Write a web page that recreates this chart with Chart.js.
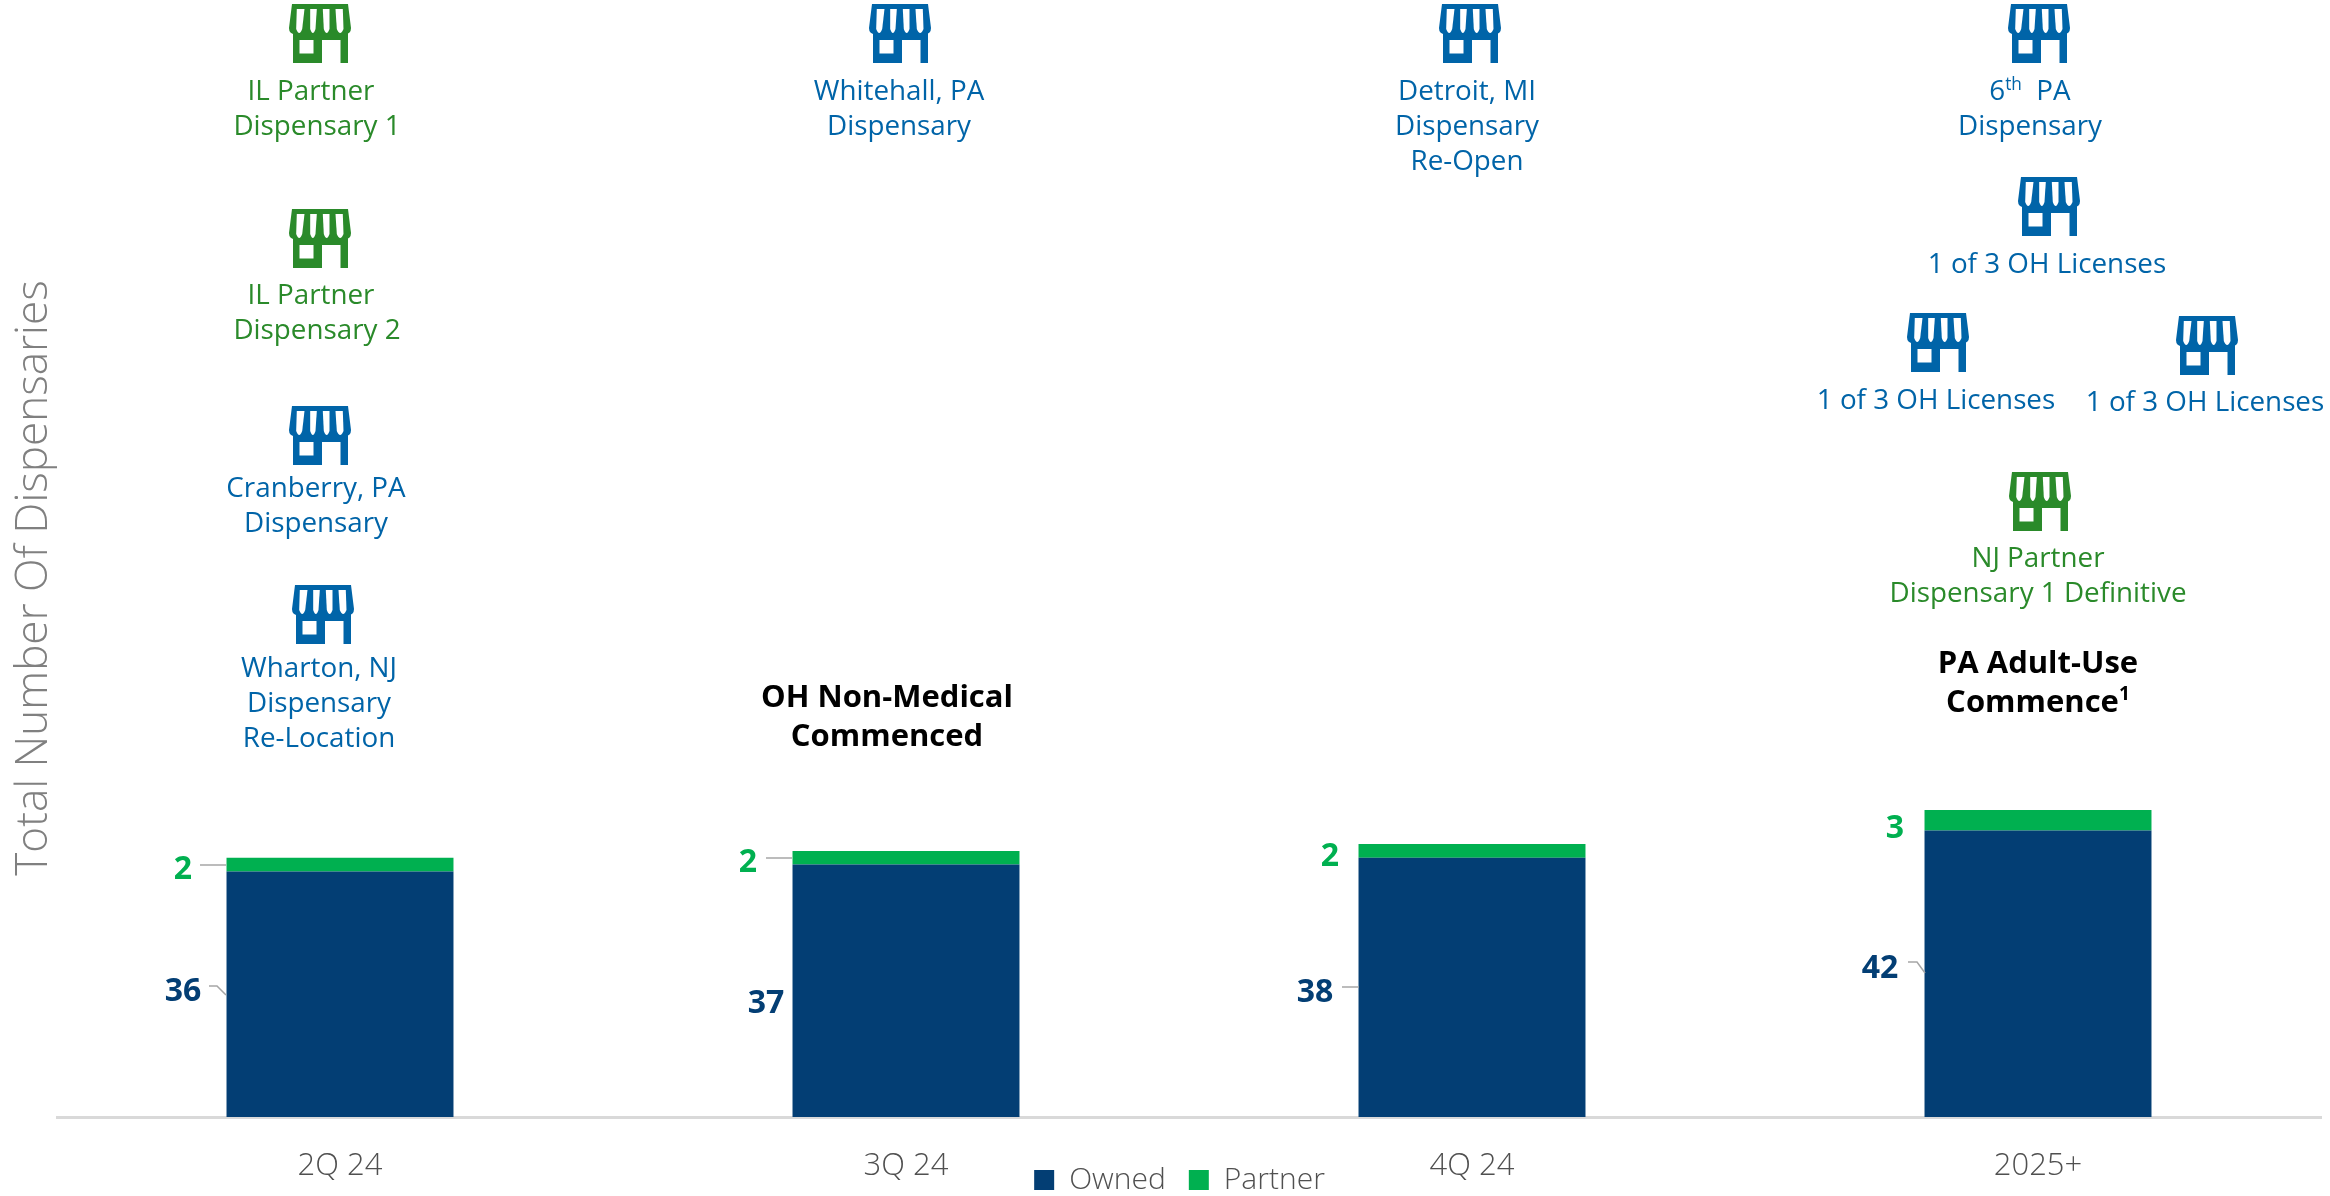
<!DOCTYPE html>
<html>
<head>
<meta charset="utf-8">
<title>Total Number Of Dispensaries</title>
<script src="https://cdn.jsdelivr.net/npm/chart.js@4/dist/chart.umd.min.js"></script>
<style>
    html, body { margin: 0; padding: 0; background: #fff; }
    canvas { display: block; }
</style>
</head>
<body>
<canvas id="dispensaryChart" width="2330" height="1196"></canvas>
<script>
const periods = ['2Q 24', '3Q 24', '4Q 24', '2025+'];
const ownedCounts = [36, 37, 38, 42];
const partnerCounts = [2, 2, 2, 3];

const NAVY = '#033e74';
const BRIGHT_GREEN = '#00b050';
const STORE_BLUE = '#0064a8';
const STORE_GREEN = '#2a8a2a';
const LEADER_GRAY = '#a6a6a6';
const FONT = '"Open Sans", sans-serif';

// Where the value labels sit next to each bar, plus their leader lines
const ownedLabelSpots = [
    { x: 183, y: 992, leader: [[209, 986], [217, 986], [226, 995]] },
    { x: 766, y: 1004, leader: null },
    { x: 1315, y: 993, leader: [[1342, 987], [1359, 987]] },
    { x: 1880, y: 969, leader: [[1908, 962], [1917, 962], [1925, 973]] }
];
const partnerLabelSpots = [
    { x: 183, y: 870, leader: [[200, 865], [226, 865]] },
    { x: 748, y: 863, leader: [[766, 858], [792, 858]] },
    { x: 1330, y: 857, leader: null },
    { x: 1895, y: 829, leader: null }
];

// Store icons with their captions, ^ marks a superscript run
const storeCallouts = [
    { x: 320, y: 33, color: STORE_GREEN, textX: 317, baseline: 100, lines: ['IL Partner', 'Dispensary 1'], lineX: [-6, 0] },
    { x: 320, y: 238, color: STORE_GREEN, textX: 317, baseline: 304, lines: ['IL Partner', 'Dispensary 2'], lineX: [-6, 0] },
    { x: 320, y: 435, color: STORE_BLUE, textX: 316, baseline: 497, lines: ['Cranberry, PA', 'Dispensary'] },
    { x: 323, y: 614, color: STORE_BLUE, textX: 319, baseline: 677, lines: ['Wharton, NJ', 'Dispensary', 'Re-Location'] },
    { x: 900, y: 33, color: STORE_BLUE, textX: 899, baseline: 100, lines: ['Whitehall, PA', 'Dispensary'] },
    { x: 1470, y: 33, color: STORE_BLUE, textX: 1467, baseline: 100, lines: ['Detroit, MI', 'Dispensary', 'Re-Open'] },
    { x: 2039, y: 33, color: STORE_BLUE, textX: 2030, baseline: 100, lines: ['6^th^  PA', 'Dispensary'] },
    { x: 2049, y: 206, color: STORE_BLUE, textX: 2047, baseline: 273, lines: ['1 of 3 OH Licenses'] },
    { x: 1938, y: 342, color: STORE_BLUE, textX: 1936, baseline: 409, lines: ['1 of 3 OH Licenses'] },
    { x: 2207, y: 345, color: STORE_BLUE, textX: 2205, baseline: 411, lines: ['1 of 3 OH Licenses'] },
    { x: 2040, y: 501, color: STORE_GREEN, textX: 2038, baseline: 567, lines: ['NJ Partner', 'Dispensary 1 Definitive'] }
];

const milestones = [
    { x: 887, baseline: 707, lines: ['OH Non-Medical', 'Commenced'] },
    { x: 2038, baseline: 673, lines: ['PA Adult-Use', 'Commence^1^'] }
];

function drawStoreIcon(ctx, cx, cy, color) {
    ctx.save();
    ctx.translate(cx, cy);
    ctx.fillStyle = color;

    // awning
    ctx.beginPath();
    ctx.moveTo(-28, -29);
    ctx.lineTo(28, -29);
    ctx.lineTo(31, -5);
    ctx.quadraticCurveTo(31, 1, 25, 1);
    ctx.lineTo(-25, 1);
    ctx.quadraticCurveTo(-31, 1, -31, -5);
    ctx.closePath();
    ctx.fill();

    // shop front
    ctx.fillRect(-27, 0, 55, 30);

    ctx.fillStyle = '#fff';
    const slits = [
        [-23.2, -15.5, -23.8, -17.8],
        [-9.8, -3.2, -9.8, -4.5],
        [2.8, 9.5, 3.8, 9.5],
        [15.5, 22.8, 16.8, 23.5]
    ];
    slits.forEach(([topL, topR, botL, botR]) => {
        ctx.beginPath();
        ctx.moveTo(topL, -24);
        ctx.lineTo(topR, -24);
        ctx.lineTo(botR, -4);
        ctx.quadraticCurveTo((botL + botR) / 2, 4, botL, -4);
        ctx.closePath();
        ctx.fill();
    });
    ctx.fillRect(-20.5, 7, 14, 13.5);   // window
    ctx.fillRect(2, 7, 18.5, 23);       // door
    ctx.restore();
}

// Centered line of text with optional ^superscript^ runs
function drawTextLine(ctx, line, x, baseline, size, weight, color) {
    const runs = line.split('^');
    const fonts = runs.map((_, i) => `${weight} ${i % 2 ? size * 0.62 : size}px ${FONT}`);
    let width = 0;
    runs.forEach((run, i) => {
        ctx.font = fonts[i];
        width += ctx.measureText(run).width;
    });
    let cursor = x - width / 2;
    ctx.fillStyle = color;
    ctx.textAlign = 'left';
    ctx.textBaseline = 'alphabetic';
    runs.forEach((run, i) => {
        ctx.font = fonts[i];
        ctx.fillText(run, cursor, i % 2 ? baseline - size * 0.36 : baseline);
        cursor += ctx.measureText(run).width;
    });
}

function drawValueLabels(ctx, values, spots, color) {
    spots.forEach((spot, i) => {
        if (spot.leader) {
            ctx.strokeStyle = LEADER_GRAY;
            ctx.lineWidth = 1.5;
            ctx.beginPath();
            spot.leader.forEach(([x, y], j) => j ? ctx.lineTo(x, y) : ctx.moveTo(x, y));
            ctx.stroke();
        }
        ctx.font = `700 32px ${FONT}`;
        ctx.fillStyle = color;
        ctx.textAlign = 'center';
        ctx.textBaseline = 'middle';
        ctx.fillText(String(values[i]), spot.x, spot.y);
    });
}

const annotationsPlugin = {
    id: 'annotations',
    afterLayout(chart) {
        // legend shares the tick label row, so move it down over that row
        chart.legend.top = 1142;
        chart.legend.left = 38;
    },
    afterDraw(chart) {
        const ctx = chart.ctx;
        ctx.save();
        drawValueLabels(ctx, ownedCounts, ownedLabelSpots, NAVY);
        drawValueLabels(ctx, partnerCounts, partnerLabelSpots, BRIGHT_GREEN);

        storeCallouts.forEach(c => {
            drawStoreIcon(ctx, c.x, c.y, c.color);
            c.lines.forEach((line, i) => {
                const shift = c.lineX ? c.lineX[i] : 0;
                drawTextLine(ctx, line, c.textX + shift, c.baseline + i * 35, 27.8, 400, c.color);
            });
        });

        milestones.forEach(m => {
            m.lines.forEach((line, i) => {
                drawTextLine(ctx, line, m.x, m.baseline + i * 38.5, 31, 700, '#000');
            });
        });
        ctx.restore();
    }
};

Chart.defaults.font.family = FONT;

new Chart(document.getElementById('dispensaryChart'), {
    type: 'bar',
    data: {
        labels: periods,
        datasets: [
            { label: 'Owned', data: ownedCounts, backgroundColor: NAVY },
            { label: 'Partner', data: partnerCounts, backgroundColor: BRIGHT_GREEN }
        ]
    },
    plugins: [annotationsPlugin],
    options: {
        responsive: false,
        animation: false,
        devicePixelRatio: 1,
        layout: { padding: { top: 39, right: 9, left: 0, bottom: 0 } },
        datasets: { bar: { barPercentage: 0.401, categoryPercentage: 1 } },
        plugins: {
            tooltip: { enabled: false },
            legend: {
                position: 'bottom',
                maxHeight: 1,
                labels: {
                    boxWidth: 20,
                    boxHeight: 20,
                    padding: 23,
                    color: '#505050',
                    font: { size: 30, weight: 300 }
                }
            }
        },
        scales: {
            x: {
                stacked: true,
                afterFit: scale => { scale.height = 78; },
                grid: { display: false },
                border: { color: '#d9d9d9', width: 3 },
                ticks: { color: '#505050', padding: 23, maxRotation: 0, font: { size: 31, weight: 300 } }
            },
            y: {
                stacked: true,
                min: 0,
                max: 158,
                afterFit: scale => { scale.width = 57; },
                grid: { display: false },
                border: { display: false },
                ticks: { display: false },
                title: {
                    display: true,
                    text: 'Total Number Of Dispensaries',
                    color: '#808080',
                    padding: { top: 8, bottom: 0 },
                    font: { size: 44, weight: 300 }
                }
            }
        }
    }
});
</script>
</body>
</html>
